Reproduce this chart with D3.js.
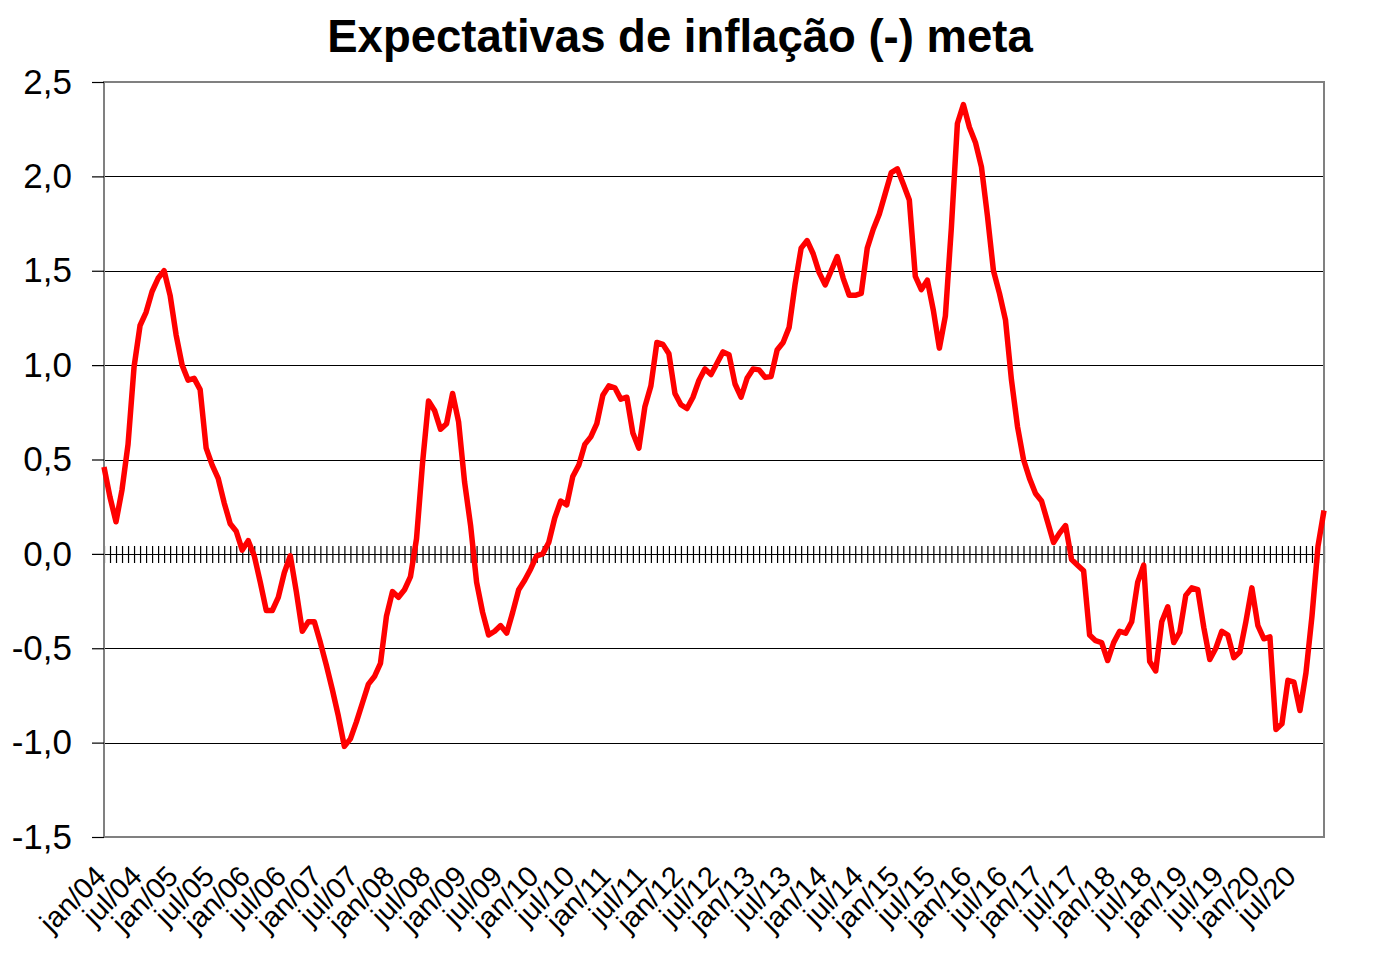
<!DOCTYPE html>
<html lang="pt">
<head>
    <meta charset="UTF-8">
    <title>Expectativas de inflação (-) meta</title>
    <script type="text/javascript" src="https://d3js.org/d3.v7.min.js"></script>
    <style>
        body{
            margin: 0;
            background-color: white;
        }
        text{
            font-family: "Liberation Sans", Arial, sans-serif;
        }
    </style>
</head>
<body>
    <script type="text/javascript">
        var width = 1395;
        var height = 960;

        // meses (jan/04 ... dez/20)
        var monthNames = ["jan","fev","mar","abr","mai","jun","jul","ago","set","out","nov","dez"];
        var years = ["04","05","06","07","08","09","10","11","12","13","14","15","16","17","18","19","20"];

        // rótulos do eixo x
        var tickLabels = ["jan/04","jul/04","jan/05","jul/05","jan/06","jul/06","jan/07","jul/07",
                          "jan/08","jul/08","jan/09","jul/09","jan/10","jul/10","jan/11","jul/11",
                          "jan/12","jul/12","jan/13","jul/13","jan/14","jul/14","jan/15","jul/15",
                          "jan/16","jul/16","jan/17","jul/17","jan/18","jul/18","jan/19","jul/19",
                          "jan/20","jul/20"];

        // eixo y
        var yTicks = [-1.5, -1.0, -0.5, 0.0, 0.5, 1.0, 1.5, 2.0, 2.5];

        // expectativa menos meta, mensal
        var values = [
            0.46, 0.30, 0.17, 0.34, 0.58, 0.99, 1.21, 1.28, 1.39, 1.46, 1.50, 1.37,   // 2004
            1.16, 1.00, 0.92, 0.93, 0.87, 0.56, 0.47, 0.40, 0.27, 0.16, 0.12, 0.02,   // 2005
            0.07, -0.01, -0.15, -0.30, -0.30, -0.23, -0.10, -0.01, -0.20, -0.41, -0.36, -0.36, // 2006
            -0.47, -0.59, -0.72, -0.86, -1.02, -0.98, -0.89, -0.79, -0.69, -0.65, -0.58, -0.33, // 2007
            -0.20, -0.23, -0.19, -0.12, 0.08, 0.48, 0.81, 0.76, 0.66, 0.69, 0.85, 0.70, // 2008
            0.38, 0.15, -0.15, -0.31, -0.43, -0.41, -0.38, -0.42, -0.31, -0.19, -0.14, -0.08, // 2009
            -0.01, 0.00, 0.06, 0.19, 0.28, 0.26, 0.41, 0.47, 0.58, 0.62, 0.69, 0.84,  // 2010
            0.89, 0.88, 0.82, 0.83, 0.64, 0.56, 0.78, 0.89, 1.12, 1.11, 1.06, 0.85,   // 2011
            0.79, 0.77, 0.83, 0.92, 0.98, 0.95, 1.01, 1.07, 1.055, 0.90, 0.83, 0.93,  // 2012
            0.98, 0.975, 0.935, 0.94, 1.08, 1.12, 1.20, 1.43, 1.62, 1.66, 1.59, 1.49, // 2013
            1.425, 1.50, 1.575, 1.46, 1.37, 1.37, 1.38, 1.62, 1.72, 1.80, 1.91, 2.02, // 2014
            2.04, 1.96, 1.875, 1.47, 1.40, 1.45, 1.29, 1.09, 1.26, 1.73, 2.28, 2.38,  // 2015
            2.26, 2.18, 2.05, 1.79, 1.50, 1.38, 1.24, 0.92, 0.675, 0.50, 0.40, 0.32,  // 2016
            0.28, 0.17, 0.06, 0.11, 0.15, -0.03, -0.06, -0.09, -0.43, -0.46, -0.47, -0.565, // 2017
            -0.47, -0.41, -0.42, -0.36, -0.15, -0.06, -0.57, -0.62, -0.36, -0.28, -0.47, -0.415, // 2018
            -0.22, -0.18, -0.19, -0.39, -0.56, -0.50, -0.41, -0.43, -0.55, -0.52, -0.36, -0.18, // 2019
            -0.38, -0.45, -0.44, -0.93, -0.90, -0.67, -0.68, -0.83, -0.63, -0.33, 0.04, 0.23   // 2020
        ];

        var categories = [];
        years.forEach(function(yy){
            monthNames.forEach(function(m){ categories.push(m + "/" + yy); });
        });

        // área do gráfico
        var plotLeft = 104, plotRight = 1324, plotTop = 82, plotBottom = 837;

        var svg = d3.select("body").append("svg")
                .attr("width", width)
                .attr("height", height);

        var x = d3.scalePoint()
                .domain(categories)
                .range([plotLeft, plotRight]);

        var y = d3.scaleLinear()
                .domain([-1.5, 2.5])
                .range([plotBottom, plotTop]);

        // vírgula decimal e hífen comum como sinal
        var ptBR = d3.formatLocale({decimal: ",", thousands: ".", grouping: [3], currency: ["R$", ""], minus: "-"});
        var fmt = ptBR.format(".1f");

        // título
        svg.append("text")
            .attr("x", 680)
            .attr("y", 52)
            .attr("text-anchor", "middle")
            .style("font-size", "45.5px")
            .style("font-weight", "bold")
            .text("Expectativas de inflação (-) meta");

        // linhas de grade
        svg.append("g")
            .selectAll("line")
            .data(yTicks.filter(function(d){ return d > -1.5 && d < 2.5; }))
            .enter()
            .append("line")
            .attr("x1", plotLeft).attr("x2", plotRight)
            .attr("y1", function(d){ return Math.round(y(d)) + 0.5; })
            .attr("y2", function(d){ return Math.round(y(d)) + 0.5; })
            .attr("stroke", "black")
            .attr("stroke-width", 1.2);

        // marcas mensais sobre o zero
        var zeroAxis = svg.append("g")
            .attr("transform", "translate(0," + (Math.round(y(0)) - 8) + ")")
            .call(d3.axisBottom(x).tickSize(17).tickFormat(""));
        zeroAxis.select(".domain").remove();
        zeroAxis.selectAll("line").attr("stroke", "black").attr("stroke-width", 1.2);

        // borda da área do gráfico
        svg.append("rect")
            .attr("x", plotLeft).attr("y", plotTop)
            .attr("width", plotRight - plotLeft).attr("height", plotBottom - plotTop)
            .attr("fill", "none")
            .attr("stroke", "#808080")
            .attr("stroke-width", 2);

        // eixo y
        var yAxis = svg.append("g")
            .attr("transform", "translate(" + plotLeft + ",0)")
            .call(d3.axisLeft(y).tickValues(yTicks).tickFormat(fmt).tickSizeInner(12).tickSizeOuter(0).tickPadding(20));
        yAxis.select(".domain").remove();
        yAxis.selectAll("line").attr("stroke", "black").attr("stroke-width", 1.2);
        yAxis.selectAll("text")
            .style("font-size", "35px")
            .style("font-family", "'Liberation Sans', Arial, sans-serif")
            .attr("fill", "black");

        // eixo x (rótulos)
        var xAxis = svg.append("g")
            .attr("transform", "translate(0," + plotBottom + ")")
            .call(d3.axisBottom(x).tickValues(tickLabels).tickSize(0).tickFormat(function(d){ return d; }));
        xAxis.select(".domain").remove();
        xAxis.selectAll("text")
            .style("font-size", "29px")
            .style("font-family", "'Liberation Sans', Arial, sans-serif")
            .attr("fill", "black")
            .attr("text-anchor", "end")
            .attr("dy", "0")
            .attr("transform", "translate(1,39) rotate(-45)");

        // série
        var line = d3.line()
            .x(function(d, i){ return x(categories[i]); })
            .y(function(d){ return y(d); });

        svg.append("path")
            .datum(values)
            .attr("d", line)
            .attr("fill", "none")
            .attr("stroke", "#ff0000")
            .attr("stroke-width", 5.5)
            .attr("stroke-linejoin", "round");
    </script>
</body>
</html>
